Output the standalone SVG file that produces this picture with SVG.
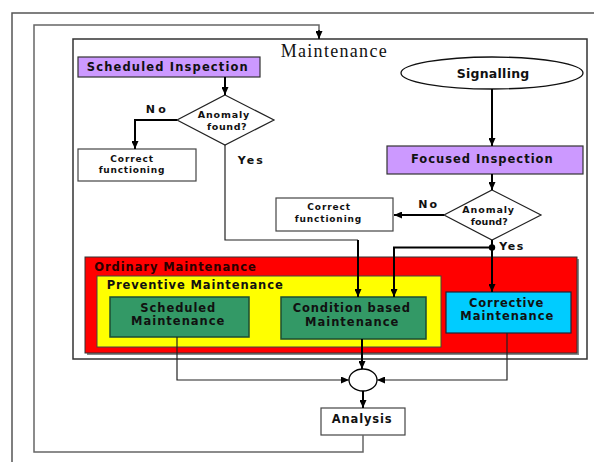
<svg xmlns="http://www.w3.org/2000/svg" width="594" height="462" viewBox="0 0 594 462">
<defs>
<marker id="ah" viewBox="0 0 8 7" refX="8" refY="3.5" markerWidth="8" markerHeight="7" markerUnits="userSpaceOnUse" orient="auto">
<path d="M0,0 L8,3.5 L0,7 z" fill="#000"/>
</marker>
</defs>
<style>
text{font-family:"DejaVu Sans",Verdana,sans-serif;font-weight:bold;fill:#111}
.c{text-anchor:middle}
.box{stroke:#333;stroke-width:1.2}
.w{fill:#fff;stroke:#444;stroke-width:1.2}
.thick{fill:none;stroke:#000;stroke-width:2}
.thin{fill:none;stroke:#222;stroke-width:1.2}
.gray{fill:none;stroke:#666;stroke-width:1.5}
</style>
<rect width="594" height="462" fill="#fff"/>
<g id="frame">
<path d="M12,462 L12,13 L594,13" fill="none" stroke="#555" stroke-width="1.5"/>
</g>
<g id="maintenance">
<rect x="73" y="39" width="514" height="320" fill="#fff" stroke="#333" stroke-width="1.5"/>
<text x="280.7" y="57" textLength="106" lengthAdjust="spacing" style="font-family:'Liberation Serif','Times New Roman',serif;font-weight:normal;font-size:18px">Maintenance</text>
</g>
<g id="ordinary">
<rect x="87" y="259" width="492" height="96" fill="#888"/>
<rect x="85" y="257" width="492" height="96" fill="#FF0000" stroke="#333" stroke-width="1"/>
<text x="94.3" y="271" textLength="161.4" lengthAdjust="spacing" style="font-size:11.5px;fill:#2a0000">Ordinary Maintenance</text>
</g>
<g id="preventive">
<rect x="97" y="276" width="344" height="71" fill="#FFFF00" stroke="#444" stroke-width="1"/>
<text x="106.7" y="288.5" textLength="176" lengthAdjust="spacing" style="font-size:11.5px">Preventive Maintenance</text>
</g>
<g id="scheduled-inspection">
<rect x="78" y="57" width="182" height="20" fill="#CC99FF" class="box"/>
<text class="c" x="167.3" y="71" textLength="161" lengthAdjust="spacing" style="font-size:11.5px">Scheduled Inspection</text>
</g>
<g id="anomaly1">
<polygon points="225,95 274,120 225,145 177,120" fill="#fff" stroke="#222" stroke-width="1.2"/>
<text class="c" x="223.5" y="118" textLength="51.6" lengthAdjust="spacing" style="font-size:9.5px">Anomaly</text>
<text class="c" x="226.8" y="130" textLength="39.5" lengthAdjust="spacing" style="font-size:9.5px">found?</text>
</g>
<g id="correct1">
<rect x="78" y="149" width="118" height="32" class="w"/>
<text class="c" x="131.7" y="162.3" textLength="42.7" lengthAdjust="spacing" style="font-size:9px">Correct</text>
<text class="c" x="131.5" y="172.7" textLength="65.7" lengthAdjust="spacing" style="font-size:9px">functioning</text>
</g>
<g id="signalling">
<ellipse cx="492" cy="73" rx="91" ry="16" fill="#fff" stroke="#111" stroke-width="1.3"/>
<text class="c" x="493" y="77.5" textLength="72.6" lengthAdjust="spacing" style="font-size:12.5px">Signalling</text>
</g>
<g id="focused-inspection">
<rect x="387" y="146" width="196" height="28" fill="#CC99FF" class="box"/>
<text class="c" x="481.8" y="163.3" textLength="141.7" lengthAdjust="spacing" style="font-size:11.5px">Focused Inspection</text>
</g>
<g id="anomaly2">
<polygon points="492,190 541,215 492,240 444,215" fill="#fff" stroke="#222" stroke-width="1.2"/>
<text class="c" x="488.2" y="212.7" textLength="51.7" lengthAdjust="spacing" style="font-size:9.5px">Anomaly</text>
<text class="c" x="489.2" y="225" textLength="37" lengthAdjust="spacing" style="font-size:9.5px">found?</text>
</g>
<g id="correct2">
<rect x="276" y="198" width="117" height="33" class="w"/>
<text class="c" x="328.7" y="210" textLength="42.7" lengthAdjust="spacing" style="font-size:9px">Correct</text>
<text class="c" x="328" y="221.7" textLength="66.6" lengthAdjust="spacing" style="font-size:9px">functioning</text>
</g>
<g id="scheduled-maintenance">
<rect x="110" y="297" width="139" height="40" fill="#339966" stroke="#1d4d33" stroke-width="1.5"/>
<text class="c" x="177.8" y="312" textLength="75" lengthAdjust="spacing" style="font-size:11.5px">Scheduled</text>
<text class="c" x="177.7" y="324.7" textLength="93.3" lengthAdjust="spacing" style="font-size:11.5px">Maintenance</text>
</g>
<g id="condition-maintenance">
<rect x="281" y="297" width="145" height="42" fill="#339966" stroke="#1d4d33" stroke-width="1.5"/>
<text class="c" x="351.3" y="312.3" textLength="117.3" lengthAdjust="spacing" style="font-size:11.5px">Condition based</text>
<text class="c" x="351.7" y="326" textLength="93.3" lengthAdjust="spacing" style="font-size:11.5px">Maintenance</text>
</g>
<g id="corrective-maintenance">
<rect x="446" y="292" width="125" height="41" fill="#00CCFF" stroke="#223" stroke-width="1.2"/>
<text class="c" x="506.2" y="307.3" textLength="74.3" lengthAdjust="spacing" style="font-size:11.5px">Corrective</text>
<text class="c" x="506.8" y="320" textLength="93" lengthAdjust="spacing" style="font-size:11.5px">Maintenance</text>
</g>
<g id="junction">
<ellipse cx="363" cy="380" rx="14" ry="11" fill="#fff" stroke="#000" stroke-width="1.3"/>
</g>
<g id="analysis">
<rect x="321" y="408" width="84" height="27" class="w"/>
<text class="c" x="361.7" y="422.7" textLength="60" lengthAdjust="spacing" style="font-size:11.5px">Analysis</text>
</g>
<g id="connectors">
<path class="thick" d="M225,77 L225,95" marker-end="url(#ah)"/>
<path class="thick" d="M177,120 L135,120 L135,149" marker-end="url(#ah)"/>
<path class="thin" d="M225,145 L225,240 L358,240"/>
<path class="thick" d="M358,240 L358,297" marker-end="url(#ah)"/>
<path class="thick" d="M492,89 L492,146" marker-end="url(#ah)"/>
<path class="thick" d="M492,174 L492,190" marker-end="url(#ah)"/>
<path class="thick" d="M444,215 L394,215" marker-end="url(#ah)"/>
<path class="thick" d="M492,240 L492,292" marker-end="url(#ah)"/>
<path class="thick" d="M492,247.5 L394,247.5 L394,297" marker-end="url(#ah)"/>
<circle cx="492" cy="247.5" r="3.2" fill="#000"/>
<path class="thin" d="M177,337 L177,380 L349,380" marker-end="url(#ah)"/>
<path class="thick" d="M362,339 L362,369" marker-end="url(#ah)"/>
<path class="thin" d="M507,333 L507,380 L377,380" marker-end="url(#ah)"/>
<path class="thick" d="M363,391 L363,408" marker-end="url(#ah)"/>
<path class="gray" d="M363,435 L363,452 L34,452 L34,25 L319,25 L319,39"/>
<path d="M319,30 L319,39" stroke="#000" stroke-width="1.5" marker-end="url(#ah)"/>
<text x="155.7" y="112.7" class="c" textLength="20" lengthAdjust="spacing" style="font-size:11px">No</text>
<text x="250.2" y="164" class="c" textLength="25" lengthAdjust="spacing" style="font-size:11px">Yes</text>
<text x="427.7" y="207.7" class="c" textLength="18.7" lengthAdjust="spacing" style="font-size:11px">No</text>
<text x="511.3" y="250" class="c" textLength="24" lengthAdjust="spacing" style="font-size:11px">Yes</text>
</g>
</svg>
